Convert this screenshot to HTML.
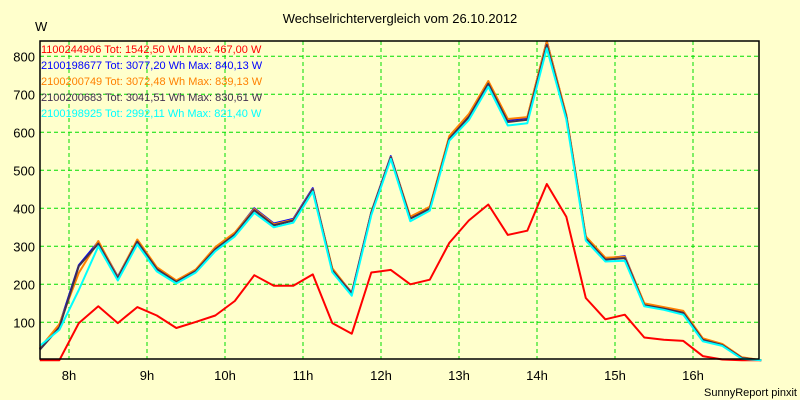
<!DOCTYPE html>
<html><head><meta charset="utf-8"><style>
html,body{margin:0;padding:0;background:#ffffcc;}
svg{display:block;font-family:"Liberation Sans",sans-serif;}
</style></head><body>
<svg id="chart" width="800" height="400" viewBox="0 0 800 400">
<rect x="0" y="0" width="800" height="400" fill="#ffffcc"/>
<text x="400" y="23" font-size="13" text-anchor="middle" fill="#000">Wechselrichtervergleich vom 26.10.2012</text>
<text x="35" y="31" font-size="13" fill="#000">W</text>
<g id="grid"></g>
<g id="ticks"></g>
<g id="series"></g>
<rect x="40" y="41" width="719" height="318" fill="none" stroke="#000" stroke-width="1.5"/>
<g id="legend"></g>
<text x="797" y="396" font-size="11" text-anchor="end" fill="#000">SunnyReport pinxit</text>
</svg>
<script>
const hourTicks = [8,9,10,11,12,13,14,15,16];
const valueTicks = [100,200,300,400,500,600,700,800];
const startHour = 7.625;
const stepHour = 0.25;
const redValues = [0,0,98,142,98,140,118,85,101,118,156,224,196,196,226,98,70,231,238,200,212,309,368,410,330,341,464,378,164,108,120,60,54,51,11,2,0,0];
const blueValues = [30,92,250,312,220,316,243,209,238,296,335,400,360,372,453,240,178,390,537,376,402,587,645,732,632,638,840,644,324,268,274,148,138,128,56,42,7,0];
const orangeValues = [32,95,230,314,218,318,245,210,239,298,336,398,358,370,450,242,176,389,535,378,404,590,648,735,635,640,839,646,326,270,272,150,140,130,58,43,8,0];
const darkValues = [28,86,248,307,216,312,240,206,235,292,331,395,355,368,449,237,175,387,534,373,399,583,640,728,627,633,830,640,320,265,269,145,136,125,54,40,6,0];
const cyanValues = [38,80,185,300,210,305,234,202,231,287,326,388,350,362,444,232,170,382,530,366,394,578,632,720,618,624,821,634,315,260,262,142,133,120,50,38,4,0];
const legendLabels = ["1100244906 Tot: 1542,50 Wh Max: 467,00 W","2100198677 Tot: 3077,20 Wh Max: 840,13 W","2100200749 Tot: 3072,48 Wh Max: 839,13 W","2100200683 Tot: 3041,51 Wh Max: 830,61 W","2100198925 Tot: 2992,11 Wh Max: 821,40 W"];

const NS="http://www.w3.org/2000/svg";
const xAt = h => 69 + (h-8)*78;
const yAt = v => 360.3 - v*0.38;
function mk(tag, attrs, parent){const e=document.createElementNS(NS,tag);for(const k in attrs)e.setAttribute(k,attrs[k]);parent.appendChild(e);return e;}
const grid=document.getElementById('grid'), ticks=document.getElementById('ticks'), ser=document.getElementById('series'), leg=document.getElementById('legend');
hourTicks.forEach(h=>{
  const l=mk('line',{x1:xAt(h),x2:xAt(h),y1:41,y2:359,stroke:'#00dd00','stroke-dasharray':'4,3'},grid);
  
  
  const t=mk('text',{x:xAt(h),y:380,'font-size':13,'text-anchor':'middle',fill:'#000'},ticks);
  t.textContent=h+'h';
  
  
});
valueTicks.forEach(v=>{
  const l=mk('line',{x1:40,x2:759,y1:yAt(v),y2:yAt(v),stroke:'#00dd00','stroke-dasharray':'4,3'},grid);
  
  
  const t=mk('text',{x:35,y:yAt(v)+5,'font-size':13,'text-anchor':'end',fill:'#000'},ticks);
  t.textContent=v;
  
  
});
const seriesList=[[redValues,'#ff0000','series-1100244906'],[blueValues,'#0000ff','series-2100198677'],[orangeValues,'#ff8000','series-2100200749'],[darkValues,'#403050','series-2100200683'],[cyanValues,'#00ffff','series-2100198925']];
seriesList.forEach(s=>{
  const pts=s[0].map((v,i)=>xAt(startHour+i*stepHour).toFixed(1)+','+yAt(v).toFixed(1)).join(' ');
  const p=mk('polyline',{points:pts,fill:'none',stroke:s[1],'stroke-width':2,'stroke-linejoin':'round'},ser);
  
  
});
const legColors=['#ff0000','#0000ff','#ff8000','#403050','#00ffff'];
legendLabels.forEach((lab,i)=>{
  const t=mk('text',{x:41,y:53+i*16,'font-size':11,fill:legColors[i]},leg);
  t.textContent=lab;
  
  
});
</script>
</body></html>
